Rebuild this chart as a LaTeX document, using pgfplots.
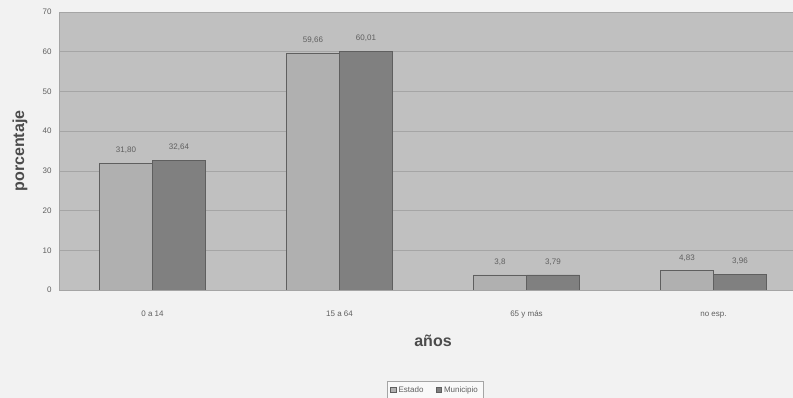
\documentclass[border=0pt]{standalone}
\usepackage{pgfplots}
\pgfplotsset{compat=1.18}
\usepackage{fontspec}
\setmainfont{Liberation Sans}
\definecolor{bgpaper}{RGB}{242,242,242}
\definecolor{plotbg}{RGB}{192,192,192}
\definecolor{estado}{RGB}{176,176,176}
\definecolor{munic}{RGB}{128,128,128}
\definecolor{edge}{RGB}{95,95,95}
\definecolor{gridc}{RGB}{165,165,165}
\definecolor{txt}{RGB}{95,95,95}
\begin{document}
\begin{tikzpicture}
\path[use as bounding box, fill=bgpaper] (0pt,0pt) rectangle (793pt,398pt);
\begin{axis}[
  at={(59pt,108pt)}, anchor=south west,
  scale only axis, width=748pt, height=278pt,
  xmin=-0.5, xmax=3.5, ymin=0, ymax=70,
  ybar=0pt, bar width=53pt,
  axis background/.style={fill=plotbg},
  axis line style={draw=gridc},
  ytick={0,10,...,70},
  ymajorgrids, grid style={draw=gridc, line width=0.6pt},
  xtick={0,1,2,3}, xticklabels={0 a 14, 15 a 64, 65 y más, no esp.},
  major tick length=0pt,
  /pgf/number format/assume math mode=true,
  tick label style={font=\fontsize{8}{9}\selectfont, text=txt},
  yticklabel style={xshift=-4pt},
  xticklabel style={yshift=-15pt, text height=1.6ex, text depth=0.4ex},
  ylabel={\textbf{porcentaje}}, ylabel style={font=\fontsize{16}{18}\selectfont, text=txt!80!black, at={(axis description cs:-0.052,0.5)}, anchor=center},
  xlabel={\textbf{años}}, xlabel style={font=\fontsize{16}{18}\selectfont, text=txt!80!black, yshift=-9pt},
  nodes near coords, point meta=explicit symbolic,
  nodes near coords style={font=\fontsize{8}{9}\selectfont, text=txt, yshift=6pt},
  legend style={at={(376pt,-100pt)}, anchor=center, legend columns=2,
    font=\fontsize{8}{9}\selectfont, text=txt, draw=gridc, fill=white!95!gray,
    inner sep=3pt, /tikz/every even column/.append style={column sep=10pt}},
  legend image code/.code={\draw[#1, draw=edge] (0cm,-0.1cm) rectangle (0.2cm,0.1cm);},
]
\addplot[fill=estado, draw=edge, line width=0.8pt] coordinates {(0,31.80) [31,80] (1,59.66) [59,66] (2,3.80) [3,8] (3,4.83) [4,83]};
\addplot[fill=munic, draw=edge, line width=0.8pt] coordinates {(0,32.64) [32,64] (1,60.01) [60,01] (2,3.79) [3,79] (3,3.96) [3,96]};
\legend{Estado, Municipio}
\end{axis}
\end{tikzpicture}
\end{document}
